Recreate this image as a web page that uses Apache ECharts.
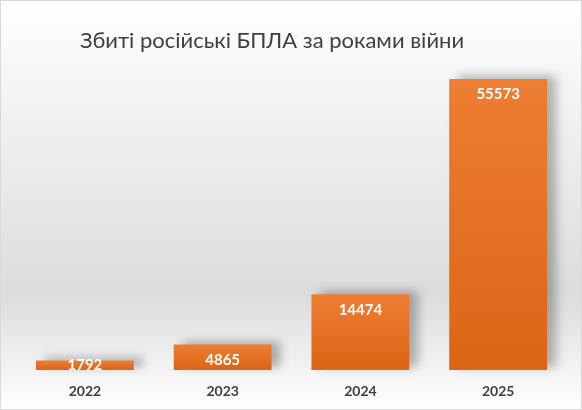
<!DOCTYPE html>
<html>
<head>
<meta charset="utf-8">
<script src="https://cdn.jsdelivr.net/npm/echarts@6/dist/echarts.min.js"></script>
<style>
  html, body { margin: 0; padding: 0; }
  #chart { width: 580px; height: 408px; border: 1px solid #d9d9d9; }
</style>
</head>
<body>
<div id="chart"></div>
<script>
  // дані
  const years = ["2022", "2023", "2024", "2025"]
  const downed = [1792, 4865, 14474, 55573]
  const titleText = "Збиті російські БПЛА за роками війни"

  const chart = echarts.init(document.getElementById("chart"), null, { renderer: "canvas" })

  // найнижчий стовпчик занадто малий - підпис по центру
  const barData = downed.map((v, i) =>
    i === 0 ? { value: v, label: { position: "inside" } } : v
  )

  const option = {
    backgroundColor: new echarts.graphic.LinearGradient(0, 0, 0, 1, [
      { offset: 0, color: "#ffffff" },
      { offset: 0.72, color: "#dcdcdc" },
      { offset: 1, color: "#ffffff" },
    ]),
    title: {
      text: titleText,
      left: 74,
      top: 24,
      textStyle: {
        fontFamily: "Lato",
        fontSize: 22,
        fontWeight: "normal",
        color: "#404040",
      },
    },
    grid: { left: 15, right: 14, top: 78, bottom: 39 },
    xAxis: {
      type: "category",
      data: years,
      axisLine: { show: false },
      axisTick: { show: false },
      axisLabel: {
        margin: 14,
        fontFamily: "Lato",
        fontWeight: "bold",
        fontSize: 14,
        color: "#404040",
      },
    },
    yAxis: {
      type: "value",
      min: 0,
      max: (v) => v.max,
      show: false,
      splitLine: { show: false },
    },
    series: [
      {
        type: "bar",
        data: barData,
        barWidth: "71%",
        itemStyle: {
          color: new echarts.graphic.LinearGradient(0, 0, 0, 1, [
            { offset: 0, color: "#ee7e33" },
            { offset: 1, color: "#dc6415" },
          ]),
          shadowColor: "rgba(0,0,0,0.28)",
          shadowBlur: 10,
          shadowOffsetX: 9,
          shadowOffsetY: -3,
        },
        label: {
          show: true,
          position: "insideTop",
          distance: 8,
          fontFamily: "Lato",
          fontWeight: "bold",
          fontSize: 15,
          color: "#ffffff",
        },
      },
    ],
  }
  chart.setOption(option)
</script>
</body>
</html>
